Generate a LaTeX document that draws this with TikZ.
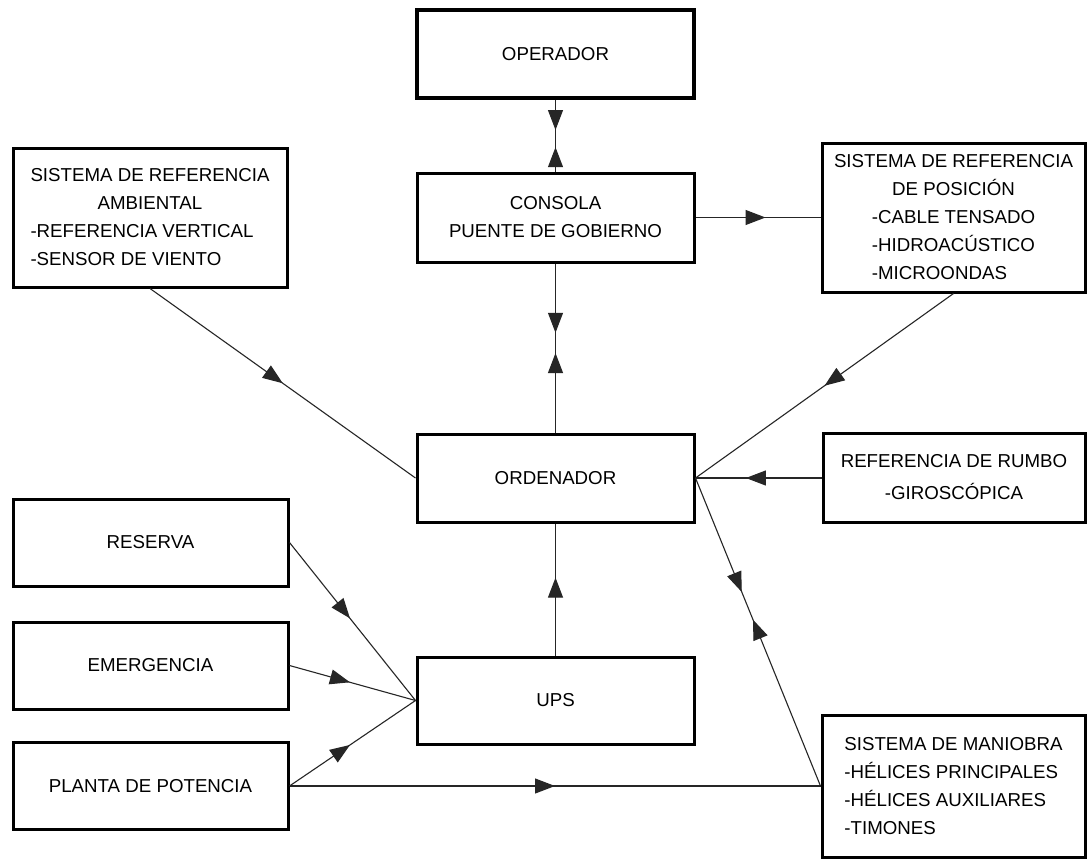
\documentclass[tikz,border=0pt]{standalone}
\usepackage{fontspec}
\setmainfont{Liberation Sans}
\usetikzlibrary{arrows.meta,decorations.markings}

\newcommand{\boxfont}{\fontsize{18.7}{28}\selectfont}

\tikzset{
  box/.style={draw=black, line width=3pt, inner sep=0pt, font=\boxfont, align=center},
  link/.style={draw=black!85, line width=1.1pt},
  headtip/.tip={Triangle[length=20pt,width=15pt]},
  fwd/.style={postaction={decorate, decoration={markings,
      mark=at position #1 with {\arrow{headtip}}}}},
  rev/.style={postaction={decorate, decoration={markings,
      mark=at position #1 with {\arrowreversed{headtip}}}}},
}

\begin{document}
\begin{tikzpicture}[x=1pt, y=-1pt]
  \useasboundingbox[fill=white] (0,0) rectangle (1087,859);

  % central column
  \node[box, line width=4pt, minimum width=277, minimum height=88] (oper) at (555.5,54) {OPERADOR};
  \node[box, minimum width=277, minimum height=89] (cons) at (555.5,217.5) {CONSOLA\\PUENTE DE GOBIERNO};
  \node[box, minimum width=277, minimum height=88] (ord) at (555.5,478) {ORDENADOR};
  \node[box, minimum width=277, minimum height=87] (ups) at (555.5,700.5) {UPS};

  % left column
  \node[box, minimum width=274, minimum height=139] (amb) at (150,217.5)
    {\begin{tabular}{@{}l@{}}
      \multicolumn{1}{@{}c@{}}{SISTEMA DE REFERENCIA}\\
      \multicolumn{1}{@{}c@{}}{AMBIENTAL}\\
      -REFERENCIA VERTICAL\\
      -SENSOR DE VIENTO
     \end{tabular}};
  \node[box, minimum width=275, minimum height=87] (res) at (150.5,542.5) {RESERVA};
  \node[box, minimum width=275, minimum height=87] (eme) at (150.5,665.5) {EMERGENCIA};
  \node[box, minimum width=275, minimum height=87] (pla) at (150.5,786) {PLANTA DE POTENCIA};

  % right column
  \node[box, minimum width=263, minimum height=149] (pos) at (953.5,217.5)
    {\begin{tabular}{@{}c@{}}
      SISTEMA DE REFERENCIA\\
      DE POSICIÓN\\
      \begin{tabular}[t]{@{}l@{}}
        -CABLE TENSADO\\
        -HIDROACÚSTICO\\
        -MICROONDAS
      \end{tabular}
     \end{tabular}};
  \node[box, minimum width=262, minimum height=89] (rum) at (954,478)
    {\begin{tabular}{@{}c@{}}
      REFERENCIA DE RUMBO\\[4pt]
      -GIROSCÓPICA
     \end{tabular}};
  \node[box, minimum width=263, minimum height=142, align=left] (man) at (953.5,786)
    {SISTEMA DE MANIOBRA\\-HÉLICES PRINCIPALES\\-HÉLICES AUXILIARES\\-TIMONES};

  % connectors
  \draw[link, fwd=0.42, rev=0.66] (oper) -- (cons);
  \draw[link, fwd=0.41, rev=0.53] (cons) -- (ord);
  \draw[link, fwd=0.59] (ups) -- (ord);
  \draw[link, fwd=0.56] (cons.east) -- (pos.west);
  \draw[link, fwd=0.5] (amb.south) -- (ord.west);
  \draw[link, fwd=0.5] (pos.south) -- (ord.east);
  \draw[link, fwd=0.6] (rum.west) -- (ord.east);
  \draw[link, fwd=0.37, rev=0.46] (ord.east) -- (man.west);
  \draw[link, fwd=0.48] (res.east) -- (ups.west);
  \draw[link, fwd=0.48] (eme.east) -- (ups.west);
  \draw[link, fwd=0.48] (pla.east) -- (ups.west);
  \draw[link, fwd=0.5] (pla.east) -- (man.west);
\end{tikzpicture}
\end{document}
